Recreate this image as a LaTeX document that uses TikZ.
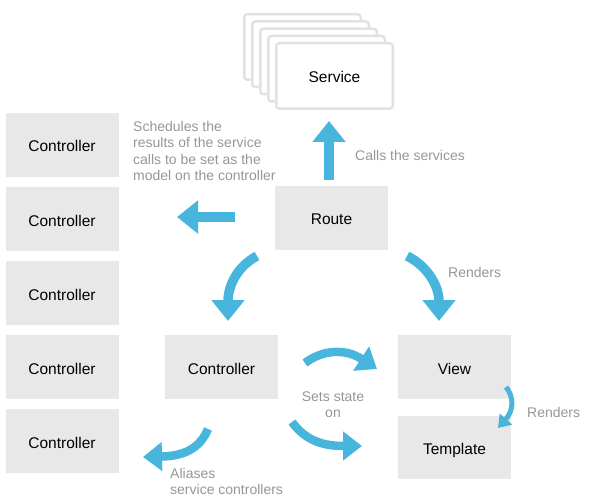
\documentclass[tikz,border=0pt]{standalone}
\usepackage{fontspec}
\setmainfont{Liberation Sans}
\usetikzlibrary{arrows.meta}
\definecolor{boxgray}{RGB}{232,232,232}
\definecolor{labelgray}{RGB}{150,150,150}
\definecolor{svcgray}{RGB}{226,226,226}
\definecolor{arrowblue}{RGB}{72,182,220}
\tikzset{
  box/.style={fill=boxgray, minimum width=113pt, minimum height=64pt, inner sep=0pt, text height=14pt, text depth=0pt, font=\fontsize{15.5}{18}\selectfont},
  svcbox/.style={draw=svcgray, line width=2.5pt, fill=white, rounded corners=3pt, minimum width=116.5pt, minimum height=65.5pt, inner sep=0pt, text height=13pt, text depth=0pt, font=\fontsize{15.5}{18}\selectfont},
  lbl/.style={text=labelgray, font=\fontsize{14}{16.6}\selectfont, inner sep=0pt},
  bigarrow/.style={draw=arrowblue, line width=9.5pt, -{Triangle[width=32pt,length=21pt]}},
  midarrow/.style={draw=arrowblue, line width=8.5pt, -{Triangle[width=28pt,length=19pt]}},
  smallarrow/.style={draw=arrowblue, line width=5pt, -{Triangle[width=16pt,length=12pt]}},
}
\begin{document}
\begin{tikzpicture}[x=1pt,y=-1pt]
\useasboundingbox (0,0) rectangle (600,500);
% service stack
\foreach \k in {4,3,2,1} {
  \node[svcbox] (svc\k) at ({334.5-8*\k},{76-7.25*\k}) {};
}
\node[svcbox] (service) at (334.5,76) {Service};
% left controllers
\node[box] (c1) at (62,145) {Controller};
\node[box] (c2) at (62,219) {Controller};
\node[box] (c3) at (62,293) {Controller};
\node[box] (c4) at (62,367) {Controller};
\node[box] (c5) at (62,441) {Controller};
% main nodes
\node[box] (route) at (331.5,218) {Route};
\node[box] (ctrl) at (221.5,367) {Controller};
\node[box] (view) at (454.5,367) {View};
\node[box, minimum height=63pt] (template) at (454.5,447.5) {Template};
% labels
\node[lbl, anchor=west, align=left] (sched) at (133,151) {Schedules the\\results of the service\\calls to be set as the\\model on the controller};
\node[lbl, anchor=west] (calls) at (355,155) {Calls the services};
\node[lbl, anchor=west] (rend1) at (448,272) {Renders};
\node[lbl, anchor=west] (rend2) at (527,412) {Renders};
\node[lbl, align=center] (sets) at (333,404.5) {Sets state\\on};
\node[lbl, anchor=west, align=left] (alias) at (170,481.5) {Aliases\\service controllers};
% arrow end points
\coordinate (upS) at (329,180);
\coordinate (upE) at (329,121);
\coordinate (lfS) at (235,217);
\coordinate (lfE) at (177,217);
\coordinate (rcS) at (257,256);
\coordinate (rcE) at (228,321);
\coordinate (rvS) at (407,256);
\coordinate (rvE) at (439,321);
\coordinate (cvS) at (305,363);
\coordinate (cvE) at (377,369);
\coordinate (ctS) at (292,422);
\coordinate (ctE) at (362,446);
\coordinate (vtS) at (506,387);
\coordinate (vtE) at (498,428);
\coordinate (alS) at (208,429);
\coordinate (alE) at (143,457);
% arrows
\draw[bigarrow] (upS) -- (upE);
\draw[bigarrow] (lfS) -- (lfE);
\draw[bigarrow] (rcS) .. controls (238,266) and (228,285) .. (rcE);
\draw[bigarrow] (rvS) .. controls (426,265) and (439,285) .. (rvE);
\draw[midarrow] (cvS) .. controls (322,350) and (345,348) .. (cvE);
\draw[midarrow] (ctS) .. controls (305,440) and (322,446) .. (ctE);
\draw[smallarrow] (vtS) .. controls (514,397) and (514,410) .. (vtE);
\draw[midarrow] (alS) .. controls (200,448) and (185,456) .. (alE);
\end{tikzpicture}
\end{document}
